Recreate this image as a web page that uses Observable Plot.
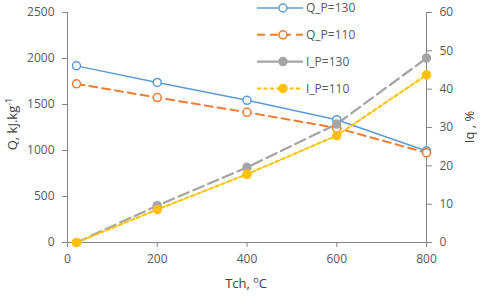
<!DOCTYPE html>
<html><head>
<meta charset="utf-8">
<script src="https://cdn.jsdelivr.net/npm/d3@7"></script>
<script src="https://cdn.jsdelivr.net/npm/@observablehq/plot@0.6"></script>
<style>body{margin:0;background:#fff} #chart{position:relative;width:480px;height:299px}</style>
</head><body><div id="chart"></div>
<script>
// Data
const temps = [20, 200, 400, 600, 800];
const qP130 = [1920, 1740, 1545, 1335, 995];
const qP110 = [1725, 1575, 1415, 1245, 975];
const iP130 = [0, 9.6, 19.6, 30.9, 48.1];
const iP110 = [0, 8.6, 17.8, 27.9, 43.7];
const xTicks = [0, 200, 400, 600, 800];
const qTicks = [0, 500, 1000, 1500, 2000, 2500];
const iTicks = [0, 10, 20, 30, 40, 50, 60];
const seriesNames = ["Q_P=130", "Q_P=110", "I_P=130", "I_P=110"];

const qMax = 2500, iMax = 60;
const toQ = v => v * qMax / iMax;

const styles = [
  {values: qP130, right: false, color: "#5B9BD5", width: 1.5, dash: null, fill: "white", legendDash: null},
  {values: qP110, right: false, color: "#ED7D31", width: 2, dash: "8,5", fill: "white", legendDash: "8,5"},
  {values: iP130, right: true, color: "#A5A5A5", width: 2.25, dash: "11,5", fill: "#A5A5A5", legendDash: null},
  {values: iP110, right: true, color: "#FFC000", width: 2, dash: "4,2.5", fill: "#FFC000", legendDash: "4,2.5"}
];

const series = styles.map((s, k) => ({
  ...s,
  name: seriesNames[k],
  data: temps.map((t, i) => ({t, v: s.right ? toQ(s.values[i]) : s.values[i]}))
}));

const axisColor = "#868686", textColor = "#595959";

const marks = [
  Plot.ruleX([0, 800], {stroke: axisColor, strokeWidth: 1}),
  Plot.ruleY([0], {stroke: axisColor, strokeWidth: 1}),
  Plot.axisX({ticks: xTicks, tickFormat: d3.format("d"), tickSize: 5, tickPadding: 7, label: null, fill: textColor, stroke: axisColor}),
  Plot.axisY({ticks: qTicks, tickFormat: d3.format("d"), tickSize: 5, tickPadding: 8, label: null, fill: textColor, stroke: axisColor}),
  Plot.axisY({anchor: "right", ticks: iTicks.map(toQ), tickFormat: d => String(Math.round(d * iMax / qMax)), tickSize: 5, tickPadding: 8, label: null, fill: textColor, stroke: axisColor})
];
for (const s of series) {
  marks.push(Plot.line(s.data, {x: "t", y: "v", stroke: s.color, strokeWidth: s.width, strokeDasharray: s.dash}));
}
for (const s of series) {
  marks.push(Plot.dot(s.data, {x: "t", y: "v", r: 4, stroke: s.color, fill: s.fill, strokeWidth: 1.5}));
}

const chart = Plot.plot({
  width: 480,
  height: 299,
  marginLeft: 67,
  marginRight: 54,
  marginTop: 12,
  marginBottom: 57,
  x: {domain: [0, 800]},
  y: {domain: [0, qMax]},
  style: {fontFamily: "'Open Sans', sans-serif", fontSize: "12px", background: "white"},
  marks
});
document.getElementById("chart").append(chart);

const svg = d3.select(chart);
const labelColor = "#404040";
// x label
const xl = svg.append("text").attr("x", 246).attr("y", 288).attr("text-anchor", "middle")
  .attr("fill", labelColor).style("font-size", "13px").style("font-family", "'Open Sans', sans-serif");
xl.append("tspan").text("Tch, ");
xl.append("tspan").text("o").attr("dy", -5).style("font-size", "9px");
xl.append("tspan").text("C").attr("dy", 5);
// left y label
const yl = svg.append("text").attr("transform", "translate(17,124) rotate(-90)").attr("text-anchor", "middle")
  .attr("fill", labelColor).style("font-size", "13px").style("font-family", "'Open Sans', sans-serif");
yl.append("tspan").text("Q, kJ.kg");
yl.append("tspan").text("-1").attr("dy", -5).style("font-size", "9px");
// right y label
svg.append("text").attr("transform", "translate(474,127) rotate(-90)").attr("text-anchor", "middle")
  .attr("fill", labelColor).style("font-size", "13px").style("font-family", "'Open Sans', sans-serif")
  .text("Iq , %");

// legend
const lg = svg.append("g");
series.forEach((s, k) => {
  const y = 8 + k * 26.8;
  lg.append("line").attr("x1", 257).attr("x2", 303).attr("y1", y).attr("y2", y)
    .attr("stroke", s.color).attr("stroke-width", s.width).attr("stroke-dasharray", s.legendDash);
  lg.append("circle").attr("cx", 283).attr("cy", y).attr("r", 4)
    .attr("stroke", s.color).attr("stroke-width", 1.5).attr("fill", s.fill);
  lg.append("text").attr("x", 306).attr("y", y).attr("dy", "0.35em").attr("text-anchor", "start").attr("fill", textColor)
    .style("font-size", "12px").style("font-family", "'Open Sans', sans-serif").text(s.name);
});
</script>
</body></html>
